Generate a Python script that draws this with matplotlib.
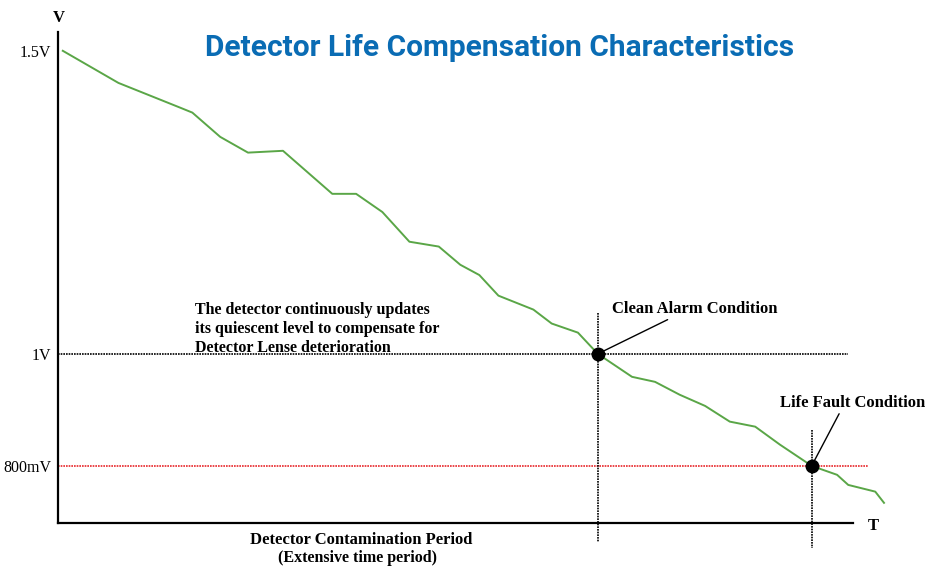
import numpy as np
import matplotlib
matplotlib.use("Agg")
import matplotlib.pyplot as plt
from matplotlib.scale import FuncScale

# detector quiescent level over contamination period (time in arbitrary units)
t = [0.6, 7.6, 15.4, 16.9, 20.4, 23.9, 28.3, 34.5, 37.5, 40.8, 44.2, 47.9,
     50.6, 53.0, 55.4, 59.8, 62.1, 65.4, 67.9, 72.2, 75.1, 78.2, 81.4, 84.5,
     87.7, 90.8, 94.8, 98.0, 99.4, 102.8, 103.9]
volts = [1.5, 1.447, 1.406, 1.398, 1.358, 1.332, 1.335, 1.264, 1.264, 1.234,
         1.185, 1.177, 1.147, 1.130, 1.096, 1.073, 1.050, 1.035, 1.0, 0.959,
         0.950, 0.927, 0.907, 0.879, 0.870, 0.838, 0.8, 0.784, 0.766, 0.754,
         0.734]

ytick_vals = [1.5, 1.0, 0.8]
ytick_labels = ["1.5V", "1V", "800mV"]

alarm_t, alarm_v = 67.9, 1.0
fault_t, fault_v = 94.8, 0.8

# the drawing is schematic: volts are not evenly spaced on the axis
v_knots = [0.5, 0.8, 1.0, 1.5, 2.0]
p_knots = [-168, 0, 112, 415, 718]
fwd = lambda v: np.interp(v, v_knots, p_knots)
inv = lambda p: np.interp(p, p_knots, v_knots)

serif = "Liberation Serif"

fig = plt.figure(figsize=(9.25, 5.67), dpi=100)
ax = fig.add_axes([58/925, 44/567, 795/925, 491/567])
ax.set_yscale(FuncScale(ax.yaxis, (fwd, inv)))
ax.set_xlim(0, 100)
ax.set_ylim(0.698, 1.531)

for s in ["top", "right"]:
    ax.spines[s].set_visible(False)
for s in ["left", "bottom"]:
    ax.spines[s].set_linewidth(1.6)

ax.set_xticks([])
ax.set_yticks(ytick_vals)
ax.set_yticklabels(ytick_labels, fontfamily=serif, fontsize=11.5)
ax.tick_params(axis="y", length=0, pad=5)

# threshold lines
ax.plot([0, 99.4], [1.0, 1.0], color="black", ls=(0, (1, 0.6)), lw=1.2, clip_on=False)
ax.plot([0, 101.9], [0.8, 0.8], color="#e8262a", ls=(0, (1, 0.6)), lw=1.2, clip_on=False)
ax.plot([alarm_t, alarm_t], [1.068, 0.664], color="black", ls=(0, (1, 0.6)), lw=1.2, clip_on=False)
ax.plot([fault_t, fault_t], [0.864, 0.654], color="black", ls=(0, (1, 0.6)), lw=1.2, clip_on=False)

ax.plot(t, volts, color="#5aa647", lw=1.4, clip_on=False, zorder=3)

ax.plot([alarm_t, fault_t], [alarm_v, fault_v], "o", color="black", ms=9, zorder=4, clip_on=False)

ax.annotate("Clean Alarm Condition", xy=(alarm_t, alarm_v), xytext=(80.1, 1.061),
            fontfamily=serif, fontweight="bold", fontsize=12, ha="center", va="bottom",
            arrowprops=dict(arrowstyle="-", color="black", lw=1.0, shrinkA=0, shrinkB=0,
                            relpos=(0.37, 0.0)),
            annotation_clip=False)
ax.annotate("Life Fault Condition", xy=(fault_t, fault_v), xytext=(99.9, 0.898),
            fontfamily=serif, fontweight="bold", fontsize=12, ha="center", va="bottom",
            arrowprops=dict(arrowstyle="-", color="black", lw=1.0, shrinkA=0, shrinkB=0,
                            relpos=(0.42, 0.0)),
            annotation_clip=False)

note = ["The detector continuously updates",
        "its quiescent level to compensate for",
        "Detector Lense deterioration"]
for i, line in enumerate(note):
    fig.text(195/925, 1 - (310 + 19*i)/567, line, fontfamily=serif,
             fontweight="bold", fontsize=11.5, va="center")

fig.text(361/925, 1 - 540/567, "Detector Contamination Period", fontfamily=serif,
         fontweight="bold", fontsize=12, ha="center", va="center")
fig.text(358/925, 1 - 558/567, "(Extensive time period)", fontfamily=serif,
         fontweight="bold", fontsize=11.5, ha="center", va="center")

fig.text(59/925, 1 - 18/567, "V", fontfamily=serif, fontweight="bold", fontsize=12,
         ha="center", va="center")
fig.text(873/925, 1 - 526/567, "T", fontfamily=serif, fontweight="bold", fontsize=12,
         ha="center", va="center")

fig.text(500/925, 1 - 48/567, "Detector Life Compensation Characteristics",
         fontfamily="Roboto", fontweight="bold", fontsize=21.5, color="#0a6cb4",
         ha="center", va="center")

fig.savefig("out.png", dpi=100)
